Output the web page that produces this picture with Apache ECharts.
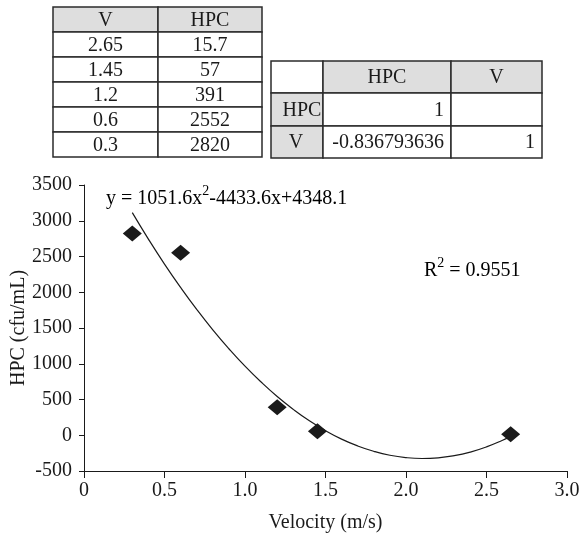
<!doctype html>
<html lang="en">
<head>
    <meta charset="UTF-8">
    <title>HPC vs Velocity</title>
    <style>
        *{
            margin:0;
            padding:0;
        }
        html,body {
            height:100%;
            background:#fff;
        }
        #main{
            width:579px;
            height:537px;
        }
    </style>
</head>
<body>

<div id="main"></div>
<script src="https://cdn.jsdelivr.net/npm/echarts@6/dist/echarts.min.js"></script>
<script>

    // data table (V, HPC)
    var velocity = [2.65, 1.45, 1.2, 0.6, 0.3];
    var hpc = [15.7, 57, 391, 2552, 2820];

    // correlation table
    var corrNames = ['HPC', 'V'];
    var corrValues = [['1', ''], ['-0.836793636', '1']];

    // polynomial trendline
    var trendX = [0.3, 0.4, 0.5, 0.6, 0.7, 0.8, 0.9, 1.0, 1.1, 1.2, 1.3, 1.4, 1.5, 1.6, 1.7, 1.8, 1.9, 2.0, 2.1, 2.2, 2.3, 2.4, 2.5, 2.6, 2.65];
    var trendY = [3113, 2743, 2394, 2067, 1760, 1474, 1210, 966, 744, 542, 362, 202, 64, -54, -150, -225, -280, -313, -325, -316, -286, -235, -163, -70, -16];

    var equationText = ['y = 1051.6x', '2', '-4433.6x+4348.1'];
    var r2Text = ['R', '2', ' = 0.9551'];

    var FONT = '"Liberation Serif", "Times New Roman", serif';
    var INK = '#1a1a1a';
    var GRAY = '#dedede';
    var BORDER = '#2b2b2b';

    var myChart = echarts.init(document.getElementById('main'));

    var elements = [];

    function cell(x, y, w, h, fill) {
        elements.push({
            type: 'rect',
            shape: {x: x, y: y, width: w, height: h},
            style: {fill: fill, stroke: BORDER, lineWidth: 1.5},
            z: 10
        });
    }

    function txt(s, x, y, align) {
        elements.push({
            type: 'text',
            style: {
                text: s, x: x, y: y,
                font: '20px ' + FONT,
                fill: INK,
                textAlign: align || 'center',
                textVerticalAlign: 'middle'
            },
            z: 11
        });
    }

    // table 1
    var t1x = [53, 158, 262];
    var t1top = 7, t1h = 25;
    cell(t1x[0], t1top, t1x[1] - t1x[0], t1h, GRAY);
    cell(t1x[1], t1top, t1x[2] - t1x[1], t1h, GRAY);
    txt('V', (t1x[0] + t1x[1]) / 2, t1top + t1h / 2 + 1);
    txt('HPC', (t1x[1] + t1x[2]) / 2, t1top + t1h / 2 + 1);
    velocity.forEach(function (v, i) {
        var y = t1top + t1h * (i + 1);
        cell(t1x[0], y, t1x[1] - t1x[0], t1h, '#fff');
        cell(t1x[1], y, t1x[2] - t1x[1], t1h, '#fff');
        txt(String(v), (t1x[0] + t1x[1]) / 2, y + t1h / 2 + 1);
        txt(String(hpc[i]), (t1x[1] + t1x[2]) / 2, y + t1h / 2 + 1);
    });

    // table 2
    var t2x = [271, 323, 451, 542];
    var t2y = [61, 93, 126, 158];
    cell(t2x[0], t2y[0], t2x[1] - t2x[0], t2y[1] - t2y[0], '#fff');
    corrNames.forEach(function (n, j) {
        cell(t2x[j + 1], t2y[0], t2x[j + 2] - t2x[j + 1], t2y[1] - t2y[0], GRAY);
        txt(n, (t2x[j + 1] + t2x[j + 2]) / 2, (t2y[0] + t2y[1]) / 2 + 1);
    });
    corrNames.forEach(function (n, i) {
        var y0 = t2y[i + 1], y1 = t2y[i + 2];
        cell(t2x[0], y0, t2x[1] - t2x[0], y1 - y0, GRAY);
        corrValues[i].forEach(function (v, j) {
            cell(t2x[j + 1], y0, t2x[j + 2] - t2x[j + 1], y1 - y0, '#fff');
            if (v) txt(v, t2x[j + 2] - 7, (y0 + y1) / 2 + 1, 'right');
        });
    });
    // row labels drawn after cells so "HPC" can overflow
    txt(corrNames[0], 302, (t2y[1] + t2y[2]) / 2 + 1);
    txt(corrNames[1], 296, (t2y[2] + t2y[3]) / 2 + 1);

    // trendline labels
    var rich = {
        base: {fontSize: 20, fontFamily: FONT, color: INK, lineHeight: 30},
        sup: {fontSize: 14, fontFamily: FONT, color: INK, verticalAlign: 'top', lineHeight: 12}
    };
    function supText(parts) {
        return '{base|' + parts[0] + '}{sup|' + parts[1] + '}{base|' + parts[2] + '}';
    }
    elements.push({
        type: 'text',
        style: {text: supText(equationText), x: 106, y: 199, rich: rich, textVerticalAlign: 'middle'},
        z: 11
    });
    elements.push({
        type: 'text',
        style: {text: supText(r2Text), x: 424, y: 271, rich: rich, textVerticalAlign: 'middle'},
        z: 11
    });

    myChart.setOption({
        animation: false,
        backgroundColor: '#fff',
        textStyle: {fontFamily: FONT},
        grid: {left: 84, right: 12, top: 185, bottom: 66, containLabel: false, outerBoundsMode: 'none'},
        xAxis: {
            type: 'value',
            min: 0, max: 3, interval: 0.5,
            name: 'Velocity (m/s)',
            nameLocation: 'middle',
            nameGap: 42,
            nameMoveOverlap: false,
            nameTextStyle: {fontSize: 20, color: INK, fontFamily: FONT},
            axisLine: {onZero: false, lineStyle: {color: INK, width: 1}},
            axisTick: {length: 7, lineStyle: {color: INK}},
            splitLine: {show: false},
            axisLabel: {
                fontSize: 20, color: INK, fontFamily: FONT, margin: 10,
                formatter: function (v) { return v === 0 ? '0' : v.toFixed(1); }
            }
        },
        yAxis: {
            type: 'value',
            min: -500, max: 3500, interval: 500,
            name: 'HPC (cfu/mL)',
            nameLocation: 'middle',
            nameGap: 55,
            nameMoveOverlap: false,
            nameRotate: 90,
            nameTextStyle: {fontSize: 20, color: INK, fontFamily: FONT},
            axisLine: {show: true, lineStyle: {color: INK, width: 1}},
            axisTick: {show: true, length: 5, lineStyle: {color: INK}},
            splitLine: {show: false},
            axisLabel: {
                fontSize: 20, color: INK, fontFamily: FONT, margin: 12,
                formatter: function (v) { return String(v); }
            }
        },
        series: [
            {
                type: 'line',
                data: trendX.map(function (x, i) { return [x, trendY[i]]; }),
                smooth: true,
                showSymbol: false,
                lineStyle: {color: INK, width: 1.2},
                silent: true
            },
            {
                type: 'scatter',
                data: velocity.map(function (v, i) { return [v, hpc[i]]; }),
                symbol: 'diamond',
                symbolSize: [19, 16],
                itemStyle: {color: INK, opacity: 1},
                z: 5
            }
        ],
        graphic: {elements: elements}
    });

</script>
</body>
</html>
